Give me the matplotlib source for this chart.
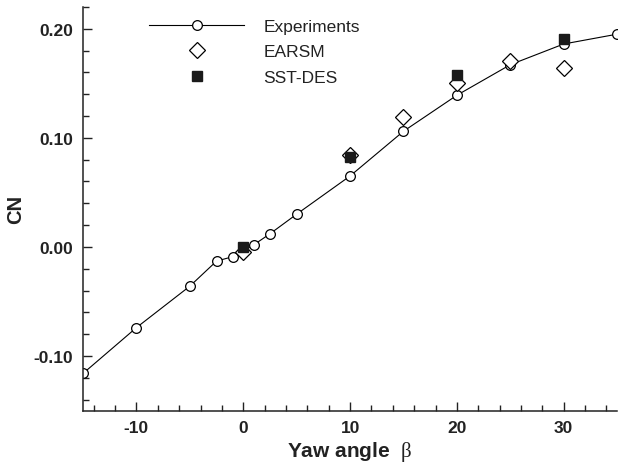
import numpy as np
import matplotlib
matplotlib.use('Agg')
import matplotlib.pyplot as plt
from matplotlib.ticker import MultipleLocator, FormatStrFormatter

plt.rcParams['font.family'] = ['Liberation Sans', 'DejaVu Sans']
plt.rcParams['mathtext.fontset'] = 'custom'
plt.rcParams['mathtext.rm'] = 'Liberation Serif'
plt.rcParams['axes.unicode_minus'] = False

# experiments
beta_exp = [-15, -10, -5, -2.5, -1, 1, 2.5, 5, 10, 15, 20, 25, 30, 35]
cn_exp = [-0.116, -0.074, -0.036, -0.013, -0.009, 0.002, 0.012, 0.030,
          0.065, 0.106, 0.139, 0.167, 0.186, 0.195]
# EARSM
beta_earsm = [0, 10, 15, 20, 25, 30]
cn_earsm = [-0.005, 0.084, 0.119, 0.150, 0.170, 0.164]
# SST-DES
beta_sst = [0, 10, 20, 30]
cn_sst = [0.000, 0.082, 0.158, 0.191]

fig = plt.figure(figsize=(6.24, 4.64), dpi=100)
ax = fig.add_axes([0.133, 0.113, 0.856, 0.870])

ax.plot(beta_exp, cn_exp, '-o', color='k', lw=0.8, mfc='white', mec='k',
        ms=7, mew=0.9, label='Experiments')
ax.plot(beta_earsm, cn_earsm, 'D', color='k', mfc='white', mec='k',
        ms=8, mew=0.9, label='EARSM')
ax.plot(beta_sst, cn_sst, 's', color='#1a1a1a', mfc='#1a1a1a', mec='#1a1a1a',
        ms=7, label='SST-DES')

ax.set_xlim(-15, 35)
ax.set_ylim(-0.15, 0.22)
ax.xaxis.set_major_locator(MultipleLocator(10))
ax.xaxis.set_minor_locator(MultipleLocator(2))
ax.yaxis.set_major_locator(MultipleLocator(0.1))
ax.yaxis.set_minor_locator(MultipleLocator(0.02))
ax.yaxis.set_major_formatter(FormatStrFormatter('%.2f'))

for s in ['top', 'right']:
    ax.spines[s].set_visible(False)
for s in ['left', 'bottom']:
    ax.spines[s].set_linewidth(1.1)
    ax.spines[s].set_color('#222222')

ax.tick_params(which='major', direction='in', length=6.5, width=1.0,
               color='#222222', labelsize=12.5, pad=7)
ax.tick_params(which='minor', direction='in', length=4, width=1.0,
               color='#222222')
for lab in ax.get_xticklabels() + ax.get_yticklabels():
    lab.set_fontweight('bold')
    lab.set_color('#222222')

ax.set_xlabel(r'Yaw angle  $\mathrm{\beta}$', fontsize=15, fontweight='bold',
              color='#222222', labelpad=3)
ax.set_ylabel('CN', fontsize=14.5, fontweight='bold', color='#222222',
              labelpad=6)

leg = ax.legend(loc='upper left', bbox_to_anchor=(0.094, 1.01), frameon=False,
                fontsize=12.5, handlelength=5.5, handletextpad=1.1,
                labelspacing=0.6, numpoints=1)
for t in leg.get_texts():
    t.set_color('#222222')

plt.savefig('out.png', dpi=100)
